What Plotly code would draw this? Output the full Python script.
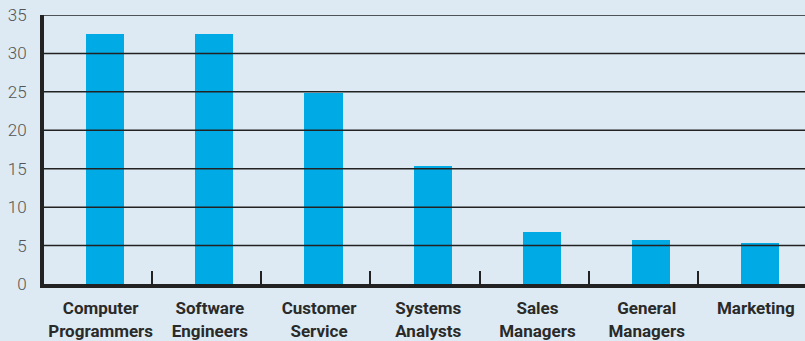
import plotly.graph_objects as go

categories = ["Computer<br>Programmers", "Software<br>Engineers", "Customer<br>Service",
              "Systems<br>Analysts", "Sales<br>Managers", "General<br>Managers", "Marketing"]
values = [32.5, 32.5, 24.8, 15.3, 6.8, 5.7, 5.3]
y_ticks = [0, 5, 10, 15, 20, 25, 30, 35]

BG = "#ddeaf3"
BAR = "#00aae4"
INK = "#222222"

positions = list(range(len(categories)))
# category labels sit slightly left of the bar centres
label_positions = [p - 0.04 for p in positions]
# separator ticks sit a little left of the midpoint between bars
boundaries = [p + 0.43 for p in positions[:-1]]
X_RANGE = [-0.5586, 6.41]

fig = go.Figure()
fig.add_trace(go.Bar(x=positions, y=values, width=0.35, marker=dict(color=BAR, line=dict(width=0)),
                     hoverinfo="skip"))

# horizontal gridlines drawn over the bars
for v in y_ticks[1:]:
    fig.add_shape(type="line", xref="paper", yref="y", x0=0, x1=1, y0=v, y1=v,
                  line=dict(color=INK, width=1.5), layer="above")

fig.update_layout(
    width=805, height=341,
    margin=dict(l=44, r=0, t=15, b=57),
    paper_bgcolor=BG, plot_bgcolor=BG,
    showlegend=False,
    bargap=0,
    font=dict(family="Roboto", color=INK),
    xaxis=dict(
        range=X_RANGE, tickmode="array", tickvals=label_positions, ticktext=categories,
        ticks="", showgrid=False, zeroline=False, showline=True, linecolor=INK, linewidth=4,
        tickfont=dict(family="Roboto", size=17, color="#2a2a2a", weight="bold"),
        ticklabelstandoff=6,
        fixedrange=True,
    ),
    xaxis2=dict(
        overlaying="x", matches="x", side="bottom", range=X_RANGE,
        tickmode="array", tickvals=boundaries, ticks="inside", ticklen=13, tickwidth=2,
        tickcolor=INK, showticklabels=False, showgrid=False, zeroline=False, showline=False,
    ),
    yaxis=dict(
        range=[0, 35], tickmode="array", tickvals=y_ticks, ticks="", showgrid=False,
        zeroline=False, showline=True, linecolor=INK, linewidth=4,
        tickfont=dict(family="Roboto", size=17, color="#555555", weight=300),
        ticklabelstandoff=10,
    ),
)
# invisible trace so the separator-tick axis is drawn
fig.add_trace(go.Scatter(x=[boundaries[0]], y=[0], xaxis="x2", mode="markers",
                         marker=dict(opacity=0), hoverinfo="skip"))

fig.write_html("out.html")
